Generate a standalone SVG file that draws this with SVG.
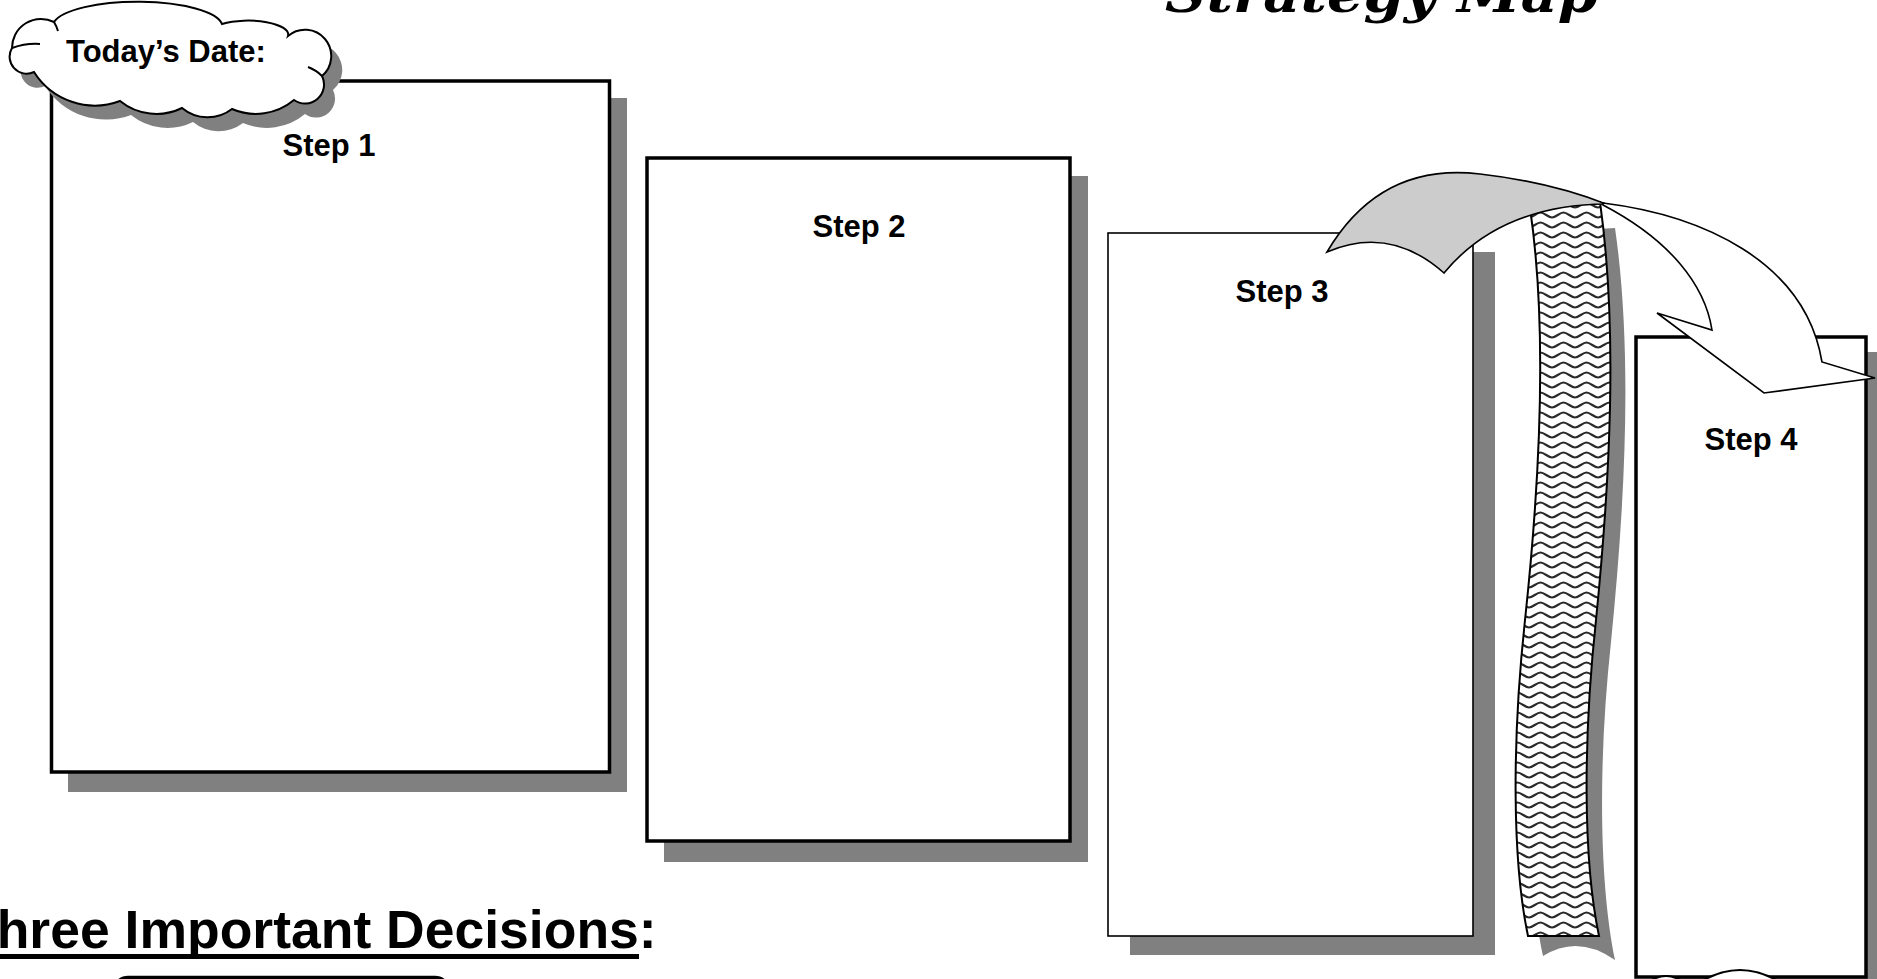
<svg xmlns="http://www.w3.org/2000/svg" width="1877" height="979" viewBox="0 0 1877 979">
<style>
.shadow{fill:#808080}
.box{fill:#fff;stroke:#000;stroke-width:3.5}
.thin{fill:#fff;stroke:#000;stroke-width:1.6}
.lbl{font-family:"Liberation Sans",Arial,sans-serif;font-weight:bold;font-size:31px;text-anchor:middle;fill:#000}
.edge{stroke:#000;stroke-width:1.6;stroke-linejoin:miter}
</style>
<defs>
<pattern id="waves" patternUnits="userSpaceOnUse" x="1529" y="0" width="23" height="10">
<rect width="23" height="10" fill="#fff"/>
<path d="M0,7.5 C3.8,7.5 7.7,2.5 11.5,2.5 C15.3,2.5 19.2,7.5 23,7.5" fill="none" stroke="#2a2a2a" stroke-width="2.2"/>
</pattern>
</defs>
<rect width="1877" height="979" fill="#fff"/>

<g id="title">
<text x="1165" y="12" font-family="'DejaVu Serif',serif" font-weight="bold" font-style="italic" font-size="50" textLength="433" lengthAdjust="spacingAndGlyphs">Strategy Map</text>
</g>

<g id="step1">
<rect class="shadow" x="68" y="98" width="559" height="694"/>
<rect class="box" x="51.5" y="81" width="558" height="691"/>
<text class="lbl" x="329" y="156">Step 1</text>
</g>

<g id="step2">
<rect class="shadow" x="664" y="176" width="424" height="686"/>
<rect class="box" x="647" y="158" width="423" height="683"/>
<text class="lbl" x="859" y="237">Step 2</text>
</g>

<g id="step3">
<rect class="shadow" x="1130" y="252" width="365" height="703"/>
<rect class="thin" x="1108" y="233" width="365" height="703"/>
<text class="lbl" x="1282" y="302">Step 3</text>
</g>

<g id="step4">
<rect class="shadow" x="1653" y="352" width="240" height="650"/>
<rect class="box" x="1636" y="337" width="230" height="640"/>
<text class="lbl" x="1751" y="450">Step 4</text>
<path d="M1650,981 Q1666,971 1682,981 Z" fill="#fff" stroke="#000" stroke-width="2.2"/>
<path d="M1702,981 Q1740,959 1778,981 Z" fill="#fff" stroke="#000" stroke-width="2.2"/>
</g>

<g id="banner">
<path class="shadow" d="M1544,232 C1563,352 1555,502 1540,642 C1527,762 1527,882 1543,956 Q1578,934 1615,960 C1599,882 1598,762 1611,642 C1625,502 1633,352 1615,228 Z"/>
<path d="M1530,208 C1548,330 1540,480 1525,620 C1512,740 1512,860 1528,936 L1599,936 C1583,860 1583,740 1596,620 C1610,480 1618,330 1600,202 Z" fill="url(#waves)" stroke="#000" stroke-width="2"/>
</g>

<g id="connectors">
<path class="edge" fill="#cccccc" d="M1327,252 Q1380,162 1480,174 Q1550,182 1606,204 Q1500,205 1444,273 Q1390,225 1327,252 Z"/>
<path class="edge" fill="#fff" d="M1603,203 C1700,215 1805,260 1822,362 L1875,378 L1764,393 L1657,313 L1712,330 C1705,285 1670,240 1603,205 Z"/>
</g>

<g id="date-cloud">
<path class="shadow" transform="translate(11,14)" d="M12,48 A29,29 0 0 1 54,22 A85,25 0 0 1 222,24 A40,14 0 0 1 288,36 A26,26 0 0 1 322,76 A19,19 0 0 1 294,100 A60,60 0 0 1 232,109 A40,40 0 0 1 182,108 A58,58 0 0 1 120,101 A72,72 0 0 1 34,72 A17,17 0 0 1 12,48 Z"/>
<path fill="#fff" stroke="#000" stroke-width="2" d="M12,48 A29,29 0 0 1 54,22 A85,25 0 0 1 222,24 A40,14 0 0 1 288,36 A26,26 0 0 1 322,76 A19,19 0 0 1 294,100 A60,60 0 0 1 232,109 A40,40 0 0 1 182,108 A58,58 0 0 1 120,101 A72,72 0 0 1 34,72 A17,17 0 0 1 12,48 Z"/>
<path d="M12,48 Q26,43 40,44 M322,76 Q316,70 308,67 M54,22 Q57,27 58,31" fill="none" stroke="#000" stroke-width="2"/>
<text x="66" y="62" font-family="'Liberation Sans',Arial,sans-serif" font-weight="bold" font-size="31">Today’s Date:</text>
</g>

<g id="decisions">
<text x="-36" y="948" font-family="'Liberation Sans',Arial,sans-serif" font-weight="bold" font-size="53.5">Three Important Decisions:</text>
<rect x="-36" y="954" width="675" height="5" fill="#000"/>
<rect x="114" y="977.5" width="335" height="40" rx="14" fill="#fff" stroke="#000" stroke-width="3.5"/>
</g>
</svg>
